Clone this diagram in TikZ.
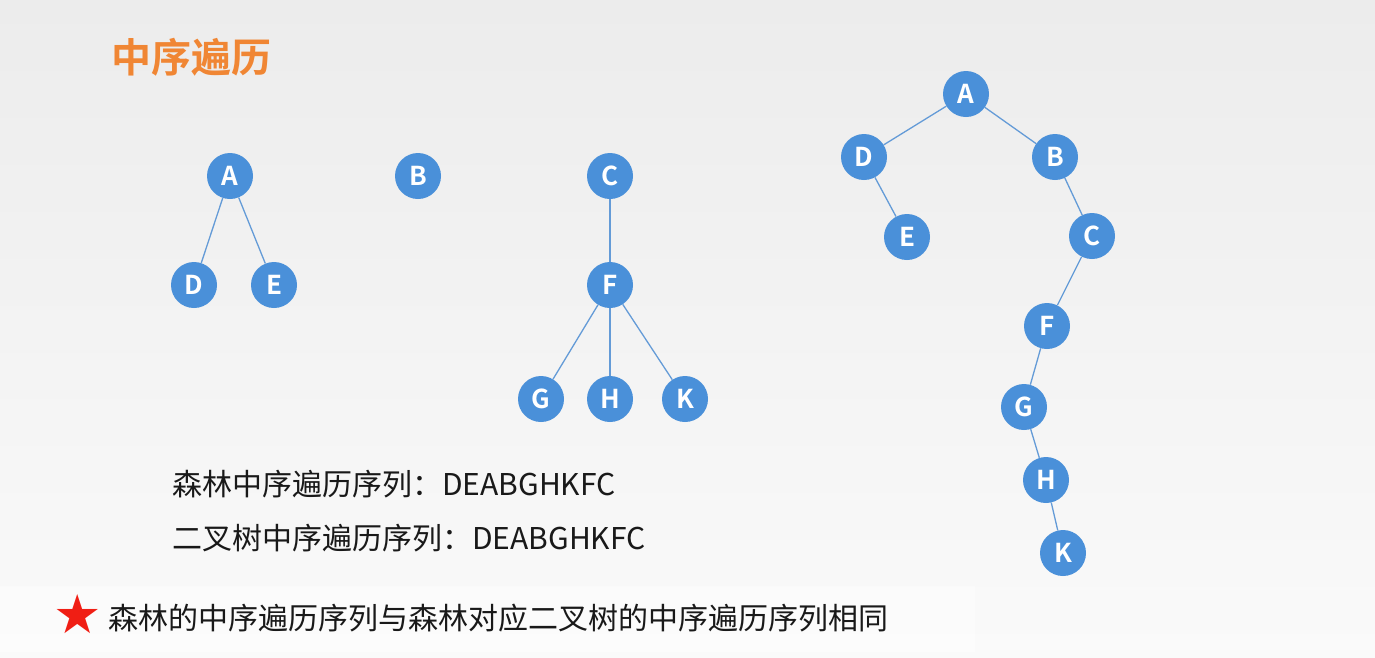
\documentclass[tikz,border=0pt]{standalone}
\usepackage{fontspec}
\setmainfont{Noto Sans CJK SC}
\newfontfamily\cjkbold{Noto Sans CJK SC Bold}
\newfontfamily\starfont{DejaVu Sans}
\definecolor{nodeblue}{RGB}{74,144,217}
\definecolor{edgeblue}{RGB}{100,155,215}
\definecolor{titleorange}{RGB}{240,134,52}
\definecolor{bgtop}{RGB}{236,236,236}
\definecolor{bgbot}{RGB}{250,250,250}
\definecolor{starred}{RGB}{240,30,20}
\begin{document}
\begin{tikzpicture}[x=1pt,y=-1pt,
  tnode/.style={circle,fill=nodeblue,minimum size=46pt,inner sep=0pt,
    text=white,font=\cjkbold\fontsize{26}{26}\selectfont},
  tedge/.style={draw=edgeblue,line width=1.3pt},
  plaintext/.style={font=\fontsize{30}{30}\selectfont,inner sep=0pt,text=black!90}]
  % background
  \shade[top color=bgtop,bottom color=bgbot] (0,0) rectangle (1375,657);
  \fill[white,opacity=0.4] (0,586) rectangle (975,652);
  \useasboundingbox (0,0) rectangle (1375,657);

  % title
  \node[font=\cjkbold\fontsize{40}{40}\selectfont,text=titleorange,anchor=west,inner sep=0pt]
    (title) at (111,57) {中序遍历};

  % forest
  \node[tnode] (fA) at (230,176) {A};
  \node[tnode] (fD) at (194,285) {D};
  \node[tnode] (fE) at (274,285) {E};
  \node[tnode] (fB) at (418,176) {B};
  \node[tnode] (fC) at (610,176) {C};
  \node[tnode] (fF) at (610,285) {F};
  \node[tnode] (fG) at (541,399) {G};
  \node[tnode] (fH) at (610,399) {H};
  \node[tnode] (fK) at (685,399) {K};
  \draw[tedge] (fA) -- (fD);
  \draw[tedge] (fA) -- (fE);
  \draw[tedge] (fC) -- (fF);
  \draw[tedge] (fF) -- (fG);
  \draw[tedge] (fF) -- (fH);
  \draw[tedge] (fF) -- (fK);

  % corresponding binary tree
  \node[tnode] (bA) at (966,94) {A};
  \node[tnode] (bD) at (864,157) {D};
  \node[tnode] (bB) at (1055,157) {B};
  \node[tnode] (bE) at (907,237) {E};
  \node[tnode] (bC) at (1092,236) {C};
  \node[tnode] (bF) at (1047,326) {F};
  \node[tnode] (bG) at (1024,407) {G};
  \node[tnode] (bH) at (1046,480) {H};
  \node[tnode] (bK) at (1063,553) {K};
  \draw[tedge] (bA) -- (bD);
  \draw[tedge] (bA) -- (bB);
  \draw[tedge] (bD) -- (bE);
  \draw[tedge] (bB) -- (bC);
  \draw[tedge] (bC) -- (bF);
  \draw[tedge] (bF) -- (bG);
  \draw[tedge] (bG) -- (bH);
  \draw[tedge] (bH) -- (bK);

  % sequences
  \node[plaintext,anchor=base west] (seq1) at (172,495) {森林中序遍历序列：DEABGHKFC};
  \node[plaintext,anchor=base west] (seq2) at (172,549) {二叉树中序遍历序列：DEABGHKFC};

  % conclusion
  \node[font=\starfont\fontsize{54}{54}\selectfont,text=starred,inner sep=0pt] (star) at (78,614) {★};
  \node[plaintext,anchor=base west] (concl) at (108,629) {森林的中序遍历序列与森林对应二叉树的中序遍历序列相同};
\end{tikzpicture}
\end{document}
